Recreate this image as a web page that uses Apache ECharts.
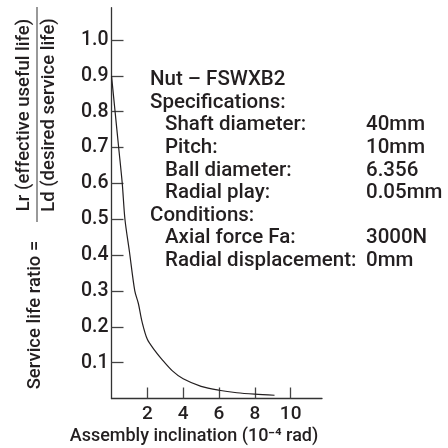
<!DOCTYPE html>
<html>
<head>
<meta charset="utf-8">
<script src="https://cdn.jsdelivr.net/npm/echarts@6/dist/echarts.min.js"></script>
<style>
html,body{margin:0;padding:0;background:#fff;}
#main{width:448px;height:448px;}
</style>
</head>
<body>
<div id="main"></div>
<script>
// data
var inclination = [0, 0.2, 0.4, 0.6, 0.75, 1.0, 1.3, 1.5, 1.7, 2.0, 2.4, 2.8, 3.4, 4.0, 5.0, 6.0, 7.0, 8.0, 9.1];
var lifeRatio = [0.9, 0.8, 0.7, 0.6, 0.5, 0.41, 0.30, 0.265, 0.215, 0.165, 0.135, 0.11, 0.077, 0.055, 0.034, 0.023, 0.016, 0.012, 0.009];
var xTicks = [2, 4, 6, 8, 10];
var yTicks = [0.1, 0.2, 0.3, 0.4, 0.5, 0.6, 0.7, 0.8, 0.9, 1.0];
var specLabels = ['Shaft diameter:', 'Pitch:', 'Ball diameter:', 'Radial play:'];
var specValues = ['40mm', '10mm', '6.356', '0.05mm'];
var condLabels = ['Axial force Fa:', 'Radial displacement:'];
var condValues = ['3000N', '0mm'];

var font = 'Roboto';
var txt = '#231f20';

var pts = [];
for (var i = 0; i < inclination.length; i++) {
  pts.push([inclination[i], lifeRatio[i]]);
}

// annotation block
var lines = [{t: 'Nut – FSWXB2', x: 150}, {t: 'Specifications:', x: 150}];
for (var i = 0; i < specLabels.length; i++) lines.push({t: specLabels[i], x: 165, v: specValues[i]});
lines.push({t: 'Conditions:', x: 150});
for (var i = 0; i < condLabels.length; i++) lines.push({t: condLabels[i], x: 165, v: condValues[i]});

var graphics = [];
for (var i = 0; i < lines.length; i++) {
  var y = 80 + i * 22.6;
  graphics.push({type: 'text', x: lines[i].x, y: y,
    style: {text: lines[i].t, font: '500 20.5px ' + font, fill: txt, textVerticalAlign: 'middle'}});
  if (lines[i].v) {
    graphics.push({type: 'text', x: 366, y: y,
      style: {text: lines[i].v, font: '500 20.5px ' + font, fill: txt, textVerticalAlign: 'middle'}});
  }
}
// y axis title (fraction)
graphics.push({type: 'text', x: 24, y: 115, rotation: Math.PI / 2,
  style: {text: 'Lr (effective useful life)', font: '500 18.5px ' + font, fill: txt, textAlign: 'center', textVerticalAlign: 'middle'}});
graphics.push({type: 'text', x: 49, y: 115, rotation: Math.PI / 2,
  style: {text: 'Ld (desired service life)', font: '500 18.5px ' + font, fill: txt, textAlign: 'center', textVerticalAlign: 'middle'}});
graphics.push({type: 'line', shape: {x1: 37, y1: 7, x2: 37, y2: 222}, style: {stroke: '#777', lineWidth: 1.5}});
graphics.push({type: 'text', x: 35, y: 315, rotation: Math.PI / 2,
  style: {text: 'Service life ratio =', font: '500 18.5px ' + font, fill: txt, textAlign: 'center', textVerticalAlign: 'middle'}});
// x axis title
graphics.push({type: 'text', x: 194, y: 436,
  style: {text: 'Assembly inclination (10⁻⁴ rad)', font: '500 18px ' + font, fill: txt, textAlign: 'center', textVerticalAlign: 'middle'}});

var chart = echarts.init(document.getElementById('main'));
chart.setOption({
  animation: false,
  backgroundColor: '#fff',
  grid: {left: 111.5, right: 126, top: 7.7, bottom: 49.5, containLabel: false},
  xAxis: {
    type: 'value', min: 0, max: 11.75,
    axisLine: {lineStyle: {color: '#333', width: 1.3}},
    axisTick: {inside: true, length: 11, customValues: xTicks, lineStyle: {color: '#444', width: 1.3}},
    axisLabel: {customValues: xTicks, fontFamily: font, fontWeight: 500, fontSize: 19, color: txt, margin: 6},
    splitLine: {show: false}
  },
  yAxis: {
    type: 'value', min: 0, max: 1.09,
    axisLine: {show: true, lineStyle: {color: '#333', width: 1.3}},
    axisTick: {show: true, inside: true, length: 12, customValues: yTicks, lineStyle: {color: '#444', width: 1.3}},
    axisLabel: {customValues: yTicks, fontFamily: font, fontWeight: 500, fontSize: 19.5, color: txt, margin: 3,
      formatter: function (v) { return v.toFixed(1); }},
    splitLine: {show: false}
  },
  series: [{
    type: 'line',
    data: pts,
    smooth: 0.3,
    showSymbol: false,
    lineStyle: {color: '#231f20', width: 1.2}
  }],
  graphic: graphics
});
</script>
</body>
</html>
